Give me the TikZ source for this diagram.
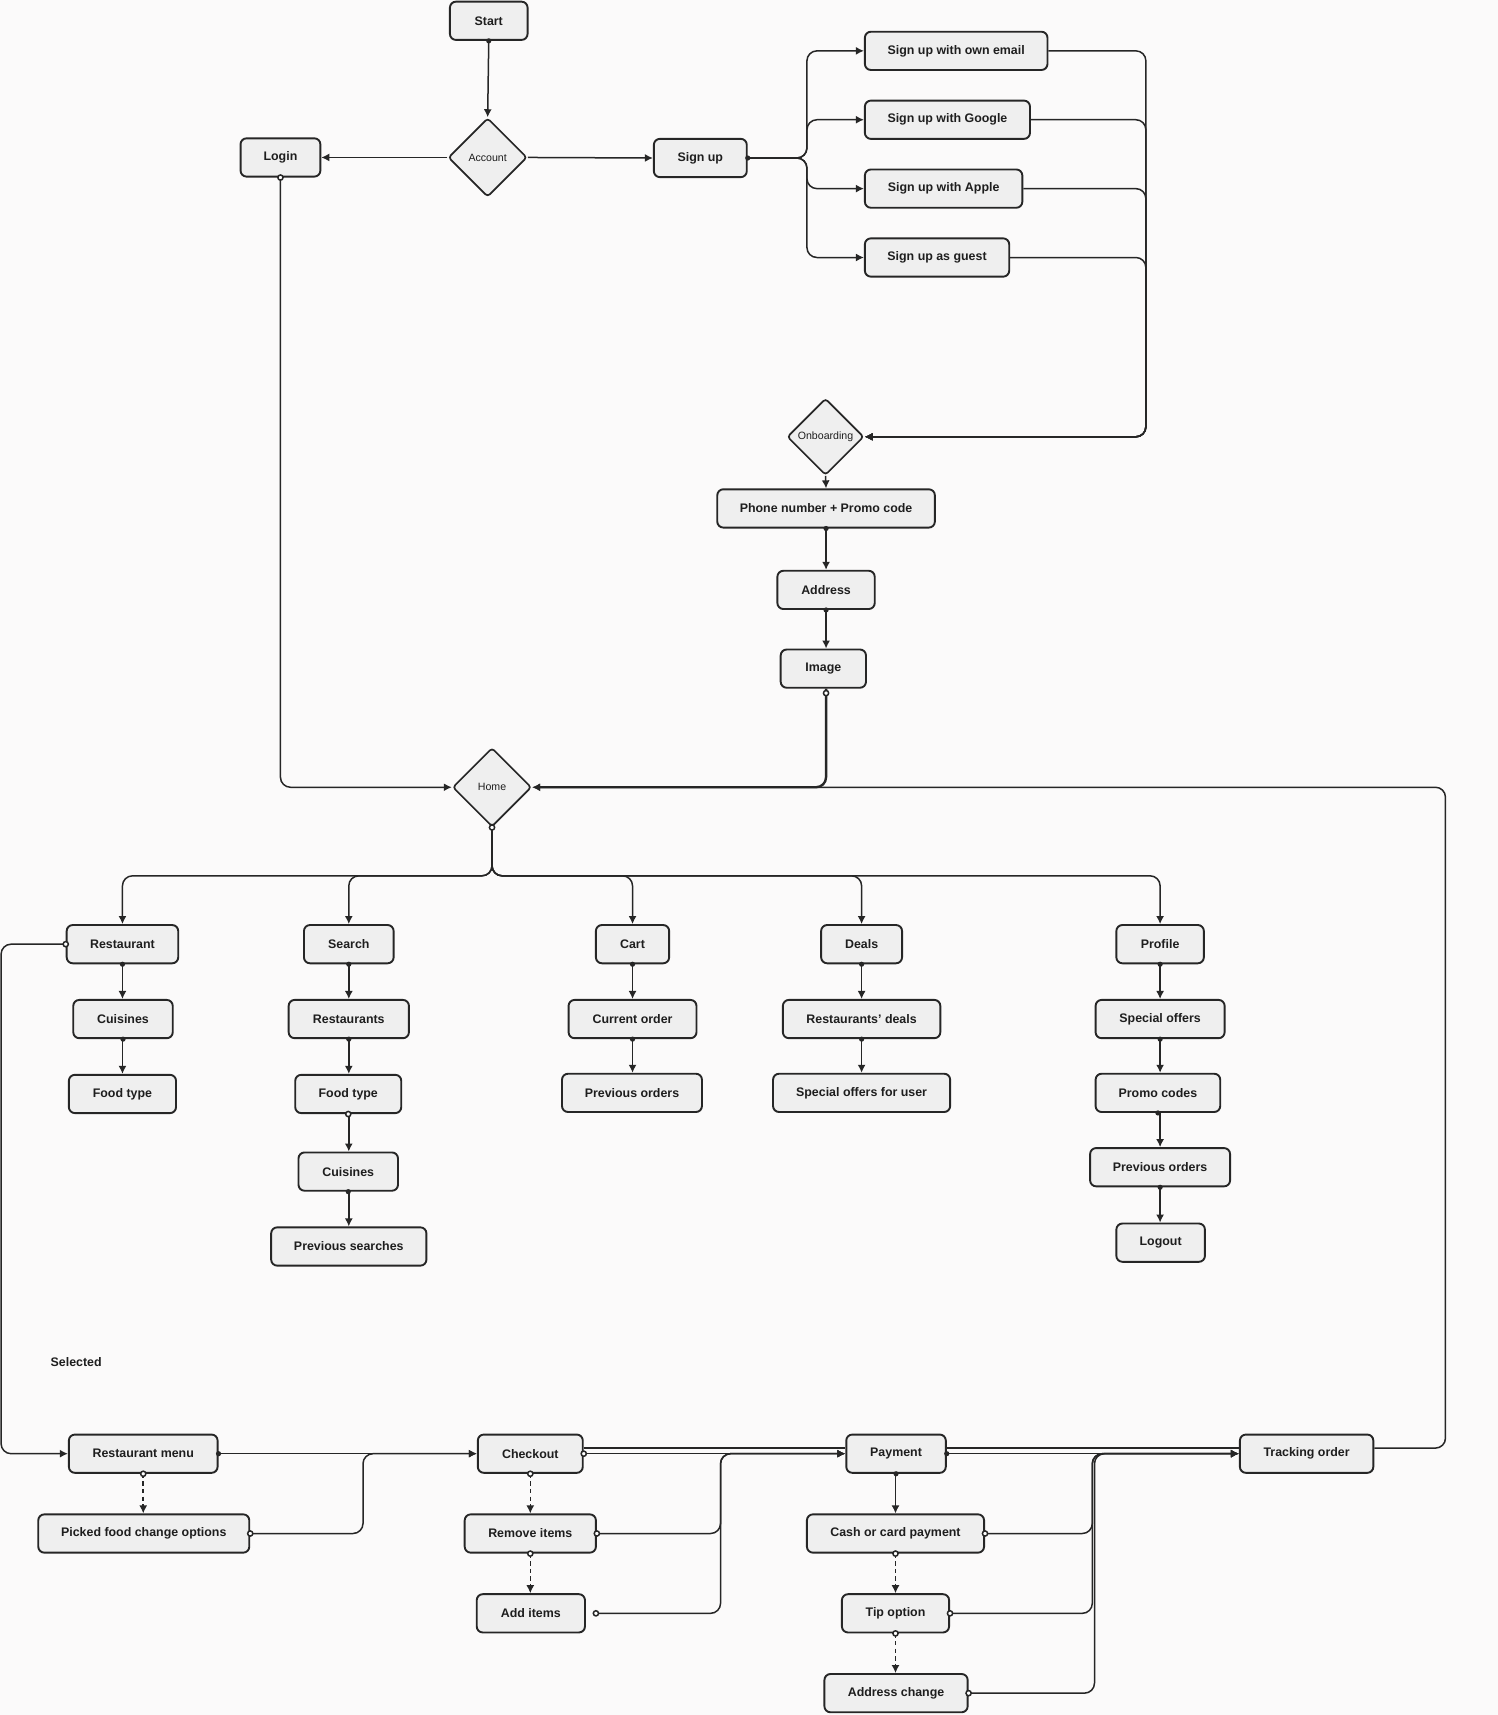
\documentclass[tikz,border=0pt]{standalone}
\usepackage{fontspec}
\setmainfont{Liberation Sans}
\usetikzlibrary{shapes.geometric,arrows.meta}
\definecolor{bg}{RGB}{251,250,250}
\definecolor{boxfill}{RGB}{239,239,239}
\definecolor{edge}{RGB}{38,38,38}
\definecolor{txt}{RGB}{30,30,30}
\tikzset{
  bw/.style={minimum width=#1*0.5467pt},
  box/.style={draw=edge, line width=0.95pt, fill=boxfill, rounded corners=3pt,
    minimum height=35*0.5467pt, inner sep=0pt, text=txt,
    font=\fontsize{6.2}{7}\selectfont\bfseries},
  dia/.style={diamond, aspect=1, draw=edge, line width=0.85pt, fill=boxfill,
    minimum width=72*0.5467pt, minimum height=72*0.5467pt, inner sep=0pt,
    rounded corners=1.5pt, text=txt, font=\fontsize{5.3}{6}\selectfont},
  conn/.style={draw=edge, line width=0.75pt, rounded corners=5pt},
  thickconn/.style={draw=edge, line width=1.2pt, rounded corners=5pt},
  arr/.style={-{Latex[length=4pt,width=4pt]}},
  dsh/.style={dash pattern=on 2.2pt off 1.6pt},
  odot/.style={draw=edge, fill=white, line width=0.75pt},
  fdot/.style={fill=edge},
  lbl/.style={text=txt, font=\fontsize{6.2}{7}\selectfont\bfseries, inner sep=0pt, anchor=west},
}
\begin{document}
\begin{tikzpicture}[x=0.5467pt,y=-0.5467pt]
\useasboundingbox (0,0) rectangle (1370,1568.5);
\fill[bg] (0,0) rectangle (1370,1568.5);

% ---------- top ----------
\node[box,bw=71] (start) at (447,19) {Start};
\node[dia] (account) at (446,144) {Account};
\node[box,bw=73] (login) at (256.5,144) {Login};
\node[box,bw=85] (signup) at (640.5,144.5) {Sign up};
\node[box,bw=167] (email) at (874.5,46.5) {Sign up with own email};
\node[box,bw=151] (google) at (866.5,109.5) {Sign up with Google};
\node[box,bw=144] (apple) at (863,172.5) {Sign up with Apple};
\node[box,bw=132] (guest) at (857,235.5) {Sign up as guest};
\node[dia,minimum width=70*0.5467pt,minimum height=70*0.5467pt] (onb) at (755,399.5) {Onboarding};
\node[box,bw=199] (phone) at (755.5,465) {Phone number + Promo code};
\node[box,bw=89] (address) at (755.5,539.5) {Address};
\node[box,bw=78] (image) at (753,611.5) {Image};
\node[dia] (home) at (450,720) {Home};

% ---------- home children ----------
\node[box,bw=102] (rest) at (112,863.5) {Restaurant};
\node[box,bw=82] (search) at (319,863.5) {Search};
\node[box,bw=67] (cart) at (578.5,863.5) {Cart};
\node[box,bw=74] (deals) at (788,863.5) {Deals};
\node[box,bw=80] (profile) at (1061,863.5) {Profile};

\node[box,bw=91] (cuis) at (112.5,932) {Cuisines};
\node[box,bw=110] (rests) at (319,932) {Restaurants};
\node[box,bw=117] (current) at (578.5,932) {Current order};
\node[box,bw=144] (rdeals) at (788,932) {Restaurants’ deals};
\node[box,bw=118] (special) at (1061,932) {Special offers};

\node[box,bw=98] (ftype) at (112,1000.5) {Food type};
\node[box,bw=97] (ftype2) at (318.5,1000.5) {Food type};
\node[box,bw=128] (prevc) at (578,999.5) {Previous orders};
\node[box,bw=162] (offuser) at (788,999.5) {Special offers for user};
\node[box,bw=114] (promo) at (1059,999.5) {Promo codes};

\node[box,bw=91] (cuis2) at (318.5,1071.5) {Cuisines};
\node[box,bw=128] (prevp) at (1061,1067.5) {Previous orders};

\node[box,bw=142] (prevs) at (319,1140) {Previous searches};
\node[box,bw=81] (logout) at (1061.5,1136.5) {Logout};

\node[lbl] (selected) at (46,1246) {Selected};

% ---------- bottom flow ----------
\node[box,bw=136] (menu) at (131,1329.5) {Restaurant menu};
\node[box,bw=193] (picked) at (131.5,1402.5) {Picked food change options};
\node[box,bw=96] (checkout) at (485,1329.5) {Checkout};
\node[box,bw=120] (remove) at (485,1402.5) {Remove items};
\node[box,bw=99] (additems) at (485.5,1475.5) {Add items};
\node[box,bw=91] (payment) at (819.5,1329.5) {Payment};
\node[box,bw=162] (cash) at (819,1402.5) {Cash or card payment};
\node[box,bw=98] (tip) at (819,1475.5) {Tip option};
\node[box,bw=131] (addrchg) at (819.5,1548.5) {Address change};
\node[box,bw=122] (tracking) at (1195,1329.5) {Tracking order};

\coordinate (addout) at (545,1475.5);

% ---------- connectors: top ----------
\draw[conn,arr] (start.south) -- (account.north);
\draw[conn,arr] (account.west) -- (login.east);
\draw[conn,arr] (account.east) -- (signup.west);
\foreach \n in {email,google,apple,guest}{
  \draw[conn,arr] (signup.east) -- (738,144.5) |- (\n.west);
  \draw[conn,arr] (\n.east) -| (1048,399.5) -- (onb.east);
}
\draw[conn,arr] (onb.south) -- (phone.north);
\draw[conn,arr] (phone.south) -- (address.north);
\draw[conn,arr] (address.south) -- (address.south |- image.north);
\draw[thickconn,arr] (image.south -| address.south) |- (home.east);
\draw[conn,arr] (login.south) |- (home.west);

% ---------- home branches ----------
\foreach \n in {rest,search,cart,deals,profile}{
  \draw[conn,arr] (home.south) -- (450,801) -| (\n.north);
}
\draw[conn,arr] (rest.south) -- (cuis.north -| rest.south);
\draw[conn,arr] (cuis.south -| rest.south) -- (ftype.north -| rest.south);
\draw[conn,arr] (search.south) -- (rests.north);
\draw[conn,arr] (rests.south) -- (ftype2.north -| rests.south);
\draw[conn,arr] (ftype2.south -| rests.south) -- (cuis2.north -| rests.south);
\draw[conn,arr] (cuis2.south -| rests.south) -- (prevs.north);
\draw[conn,arr] (cart.south) -- (current.north -| cart.south);
\draw[conn,arr] (current.south -| cart.south) -- (prevc.north -| cart.south);
\draw[conn,arr] (deals.south) -- (rdeals.north);
\draw[conn,arr] (rdeals.south) -- (offuser.north);
\draw[conn,arr] (profile.south) -- (special.north);
\draw[conn,arr] (special.south) -- (promo.north -| special.south);
\draw[conn,arr] (promo.south -| special.south) -- (prevp.north);
\draw[conn,arr] (prevp.south) -- (logout.north -| prevp.south);

% ---------- bottom connectors ----------
\draw[conn,arr] (rest.west) -| (1,1329.5) -- (menu.west);
\draw[conn,arr] (menu.east) -- (checkout.west);
\draw[conn,dsh,arr] (menu.south) -- (picked.north -| menu.south);
\draw[conn,arr] (picked.east) -| (332,1329.5) -- (checkout.west);
\draw[conn,dsh,arr] (checkout.south) -- (remove.north);
\draw[conn,dsh,arr] (remove.south) -- (additems.north -| remove.south);
\draw[conn,arr] (remove.east) -| (659,1329.5) -- (payment.west);
\draw[conn,arr] (addout) -| (659,1329.5) -- (payment.west);
\draw[conn,arr] (checkout.east) -- (payment.west);
\draw[conn] ([yshift=2.8pt]checkout.east) -- ([yshift=2.8pt]payment.west);
\draw[conn,arr] (payment.south -| cash.north) -- (cash.north);
\draw[conn,dsh,arr] (cash.south) -- (tip.north);
\draw[conn,dsh,arr] (tip.south) -- (addrchg.north -| tip.south);
\draw[conn,arr] (cash.east) -| (999,1329.5) -- (tracking.west);
\draw[conn,arr] (tip.east) -| (999,1329.5) -- (tracking.west);
\draw[conn,arr] (addrchg.east) -| (1001,1329.5) -- (tracking.west);
\draw[conn,arr] (payment.east) -- (tracking.west);
\draw[conn] ([yshift=2.8pt]payment.east) -- ([yshift=2.8pt]tracking.west);
\draw[conn,arr] ([yshift=2.8pt]tracking.east) -| (1322,720) -- (home.east);

% ---------- dots ----------
\foreach \p in {login.south, home.south, rest.west, ftype2.south, menu.south,
  picked.east, checkout.east, checkout.south, remove.south, remove.east, addout,
  cash.east, cash.south, tip.east, tip.south, addrchg.east}{
  \draw[odot] (\p) circle (1.3pt);
}
\draw[odot] ([yshift=-2.2pt]image.south -| address.south) circle (1.3pt);
\foreach \p in {start.south, rest.south, cuis.south, search.south, rests.south,
  cuis2.south, cart.south, current.south, deals.south, rdeals.south,
  profile.south, special.south, promo.south, prevp.south, phone.south,
  address.south, payment.south, payment.east, menu.east, signup.east}{
  \fill[fdot] (\p) circle (1.3pt);
}
\end{tikzpicture}
\end{document}
